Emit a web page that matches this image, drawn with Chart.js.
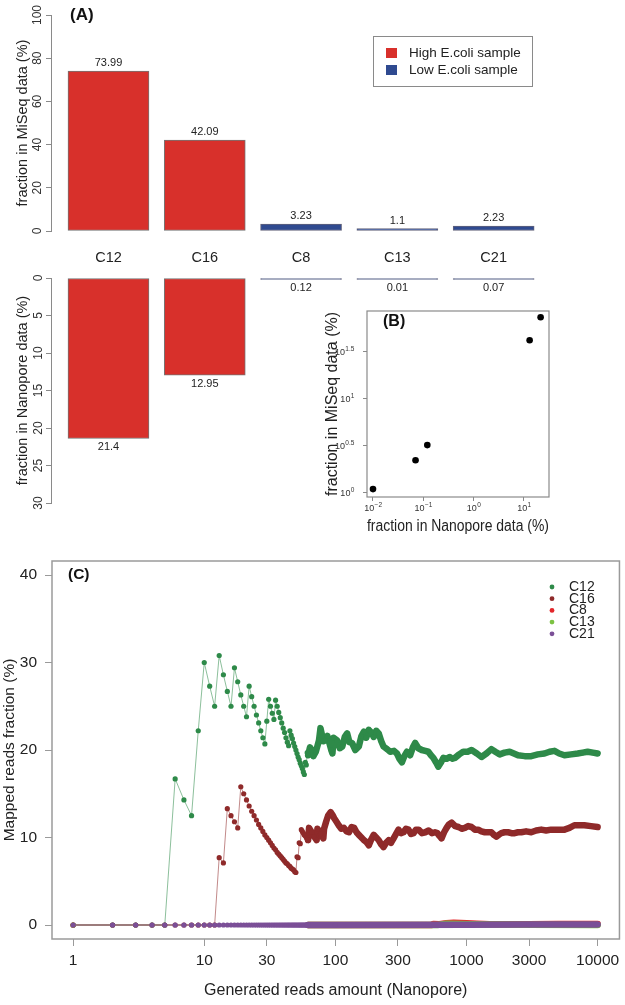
<!DOCTYPE html>
<html><head><meta charset="utf-8">
<script src="https://cdn.jsdelivr.net/npm/chart.js@4.4.1/dist/chart.umd.min.js"></script>
<style>
html,body{margin:0;padding:0;background:#fff;}
#wrap{position:relative;width:625px;height:1005px;overflow:hidden;background:#fff;}
.pane{position:absolute;}
canvas{display:block;}
</style></head><body>
<div id="wrap">
  <div class="pane" style="left:0;top:0;"><canvas id="a1" width="625" height="240"></canvas></div>
  <div class="pane" style="left:0;top:240px;"><canvas id="a2" width="625" height="300"></canvas></div>
  <div class="pane" style="left:300px;top:290px;"><canvas id="b" width="325" height="250"></canvas></div>
  <div class="pane" style="left:0;top:540px;"><canvas id="c" width="625" height="465"></canvas></div>
</div>
<script>
// ---------------- DATA ----------------
const categories = ['C12', 'C16', 'C8', 'C13', 'C21'];
const sampleGroup = ['High', 'High', 'Low', 'Low', 'Low'];
const groupNames = ['High E.coli sample', 'Low E.coli sample'];
const miseqFraction = [73.99, 42.09, 3.23, 1.1, 2.23];
const nanoporeFraction = [21.4, 12.95, 0.12, 0.01, 0.07];

const bXTickValues = [0.01, 0.1, 1, 10];
const bXTickExponents = ['\u22122', '\u22121', '0', '1'];
const bYTickValues = [1, 3.1623, 10, 31.623];
const bYTickExponents = ['0', '0.5', '1', '1.5'];

const cXTicks = [1, 10, 30, 100, 300, 1000, 3000, 10000];
const cYTicks = [0, 10, 20, 30, 40];
const cSeriesNames = ['C12', 'C16', 'C8', 'C13', 'C21'];

const earlyReads = [1,2,3,4,5,6,7,8,9,10,11,12,13,14,15,16,17,18,19,20,21,22,23,24,25,26,27,28,29,30,
  31,32,33,34,35,36,37,38,39,40,41,42,43,44,45,46,47,48,49,50,51,52,53,54,55,56,57,58,59,60,61,62];

const c12Early = [0,0,0,0,0,16.7,14.3,12.5,22.2,30.0,27.3,25.0,30.8,28.6,26.7,25.0,29.4,27.8,26.3,25.0,
  23.8,27.3,26.1,25.0,24.0,23.1,22.2,21.4,20.7,23.3,25.8,25.0,24.2,23.5,25.7,25.0,24.3,23.7,23.1,22.5,
  22.0,21.4,20.9,20.5,22.2,21.7,21.3,20.8,20.4,20.0,19.6,19.2,18.9,18.5,18.2,17.9,17.5,17.2,18.6,18.3,19.7,19.4];
const c12TailReads = [64,66,68,71,75,77,81,84,87,93,95,97,103,108,113,118,123,128,134,142,151,158,165,172,180,188,196,205,214,224,
  233,248,262,280,295,308,322,336,351,372,390,406,430,456,485,512,536,559,585,610,640,666,705,748,780,817,880,944,1020,1093,
  1200,1301,1420,1549,1660,1793,1950,2136,2300,2470,2780,3118,3500,3937,4300,4688,5100,5587,6300,7047,7700,8396,9200,10000];
const c12TailFrac = [20.3,20.0,19.3,19.8,21.1,22.5,21.0,21.1,21.6,20.0,19.6,21.4,21.1,20.2,20.4,21.5,21.9,20.9,20.8,20.0,20.4,21.6,22.1,21.4,22.3,22.0,21.5,22.2,21.9,21.0,
  20.4,20.1,19.8,19.9,19.6,19.0,18.6,19.3,19.8,19.4,20.3,20.8,20.2,20.0,19.9,19.8,19.4,19.1,18.6,18.1,18.6,19.1,19.0,19.2,19.0,19.1,19.5,19.8,19.8,20.0,
  19.6,19.2,19.6,20.1,19.8,19.5,19.7,19.8,19.6,19.4,19.3,19.3,19.5,19.6,19.8,19.9,19.6,19.4,19.5,19.6,19.7,19.8,19.7,19.6];

const c16Early = [0,0,0,0,0,0,0,0,0,0,0,0,7.7,7.1,13.3,12.5,11.8,11.1,15.8,15.0,14.3,13.6,13.0,12.5,12.0,
  11.5,11.1,10.7,10.3,10.0,9.7,9.4,9.1,8.8,8.6,8.3,8.1,7.9,7.7,7.5,7.3,7.1,7.0,6.8,6.7,6.5,6.4,6.3,6.1,6.0,
  7.8,7.7,9.4,9.3,10.9,10.7,10.5,10.3,10.2,10.0,9.8,9.7];
const c16TailReads = [63,66,69,72,73,77,81,82,85,88,92,95,98,102,106,111,116,122,127,133,139,145,151,158,165,172,180,188,196,205,
  214,224,233,244,255,266,278,290,303,317,331,346,361,378,395,412,431,458,485,515,546,575,600,620,645,675,705,735,770,820,
  869,920,972,1030,1093,1160,1227,1300,1380,1460,1549,1620,1690,1760,1842,1950,2076,2200,2332,2470,2620,2850,3118,3400,3716,4050,4420,5000,5587,6100,
  6650,7300,7925,8900,10000];
const c16TailFrac = [11.1,10.6,10.1,9.7,11.0,10.4,9.9,11.0,11.8,12.5,12.9,12.6,12.2,11.8,11.4,11.0,11.1,10.7,10.6,11.2,11.1,10.6,10.3,10.0,9.7,9.5,9.1,9.8,10.3,10.0,
  9.7,9.2,8.9,9.4,9.7,9.4,9.9,10.4,10.9,10.5,10.6,11.0,10.9,10.4,10.5,10.9,10.9,10.5,10.6,10.8,10.5,10.6,10.5,10.2,9.9,10.6,11.1,11.5,11.7,11.3,
  11.2,11.0,11.1,11.3,11.2,10.9,10.9,10.7,10.6,10.6,10.6,10.3,10.1,10.3,10.5,10.6,10.6,10.5,10.5,10.6,10.6,10.7,10.6,10.8,10.9,10.8,10.9,10.9,10.9,11.1,
  11.4,11.4,11.4,11.3,11.2];

const c8Reads = [1,62,540,560,620,700,800,900,1000,1200,1500,2000,3000,5000,10000];
const c8Frac  = [0,0,0,0.12,0.10,0.20,0.26,0.24,0.20,0.15,0.10,0.08,0.10,0.11,0.12];
const c13Reads = [1,62,600,700,900,1100,1400,1800,3000,10000];
const c13Frac  = [0,0,0,0.14,0.11,0.09,0.07,0.06,0.03,0.01];
const c21Early = [0,0,0,0,0,0,0,0,0,0,0,0,0,0,0,0,0,0,0,0,0,0,0,0,0,0,0,0,0,0,
  0,0,0,0,0,0,0,0,0,0,0,0,0,0,0,0,0,0,0,0,0,0,0,0,0,0,0,0,0,0,0,0];
const c21TailReads = [100, 1000, 3000, 10000];
const c21TailFrac  = [0, 0.02, 0.05, 0.07];

// ---------------- STYLE ----------------
const FONT = "'Liberation Sans', Arial, Helvetica, sans-serif";
Chart.defaults.font.family = FONT;
Chart.defaults.color = '#222';
Chart.defaults.animation = false;
Chart.defaults.devicePixelRatio = 1;

const groupColors = { High: '#d8302b', Low: '#2f4a90' };
const axisGray = '#8a8a8a';
const seriesColors = ['#2e8a49', '#8f2a2a', '#e3262a', '#7cc243', '#7b4f97'];
const seriesLight = ['rgba(46,138,73,0.55)', 'rgba(143,42,42,0.55)', 'rgba(227,38,42,0.55)', 'rgba(124,194,67,0.55)', 'rgba(123,79,151,0.7)'];

const idx = categories.map((c, i) => i);
function groupData(values, g) {
  return idx.filter(i => sampleGroup[i] === g).map(i => ({ x: i, y: values[i] }));
}

// ---------------- PLUGINS ----------------
const barValueLabels = {
  id: 'barValueLabels',
  afterDatasetsDraw(chart, args, opts) {
    const ctx = chart.ctx;
    ctx.save();
    ctx.font = '11px ' + FONT;
    ctx.fillStyle = '#222';
    ctx.textAlign = 'center';
    ctx.textBaseline = 'middle';
    chart.data.datasets.forEach((ds, di) => {
      const meta = chart.getDatasetMeta(di);
      meta.data.forEach((el, i) => {
        ctx.fillText(String(ds.data[i].y), el.x, el.y + opts.offset);
      });
    });
    ctx.restore();
  }
};

const panelTag = {
  id: 'panelTag',
  afterDraw(chart, args, opts) {
    const ctx = chart.ctx, ca = chart.chartArea;
    ctx.save();
    ctx.font = 'bold ' + opts.size + 'px ' + FONT;
    ctx.fillStyle = '#111';
    ctx.textAlign = 'left';
    ctx.textBaseline = 'middle';
    ctx.fillText(opts.text, ca.left + opts.dx, ca.top + opts.dy);
    ctx.restore();
  }
};

const frameBox = {
  id: 'frameBox',
  beforeDatasetsDraw(chart, args, opts) {
    const ctx = chart.ctx, ca = chart.chartArea;
    ctx.save();
    ctx.strokeStyle = opts.color;
    ctx.lineWidth = opts.width;
    ctx.strokeRect(ca.left, ca.top, ca.right - ca.left, ca.bottom - ca.top);
    ctx.restore();
  }
};

// power-of-ten tick labels with raised exponents (panel B)
const powerTicks = {
  id: 'powerTicks',
  afterDraw(chart) {
    const ctx = chart.ctx;
    const xs = chart.scales.x, ys = chart.scales.y;
    ctx.save();
    ctx.fillStyle = '#333';
    ctx.textBaseline = 'alphabetic';
    const draw = (px, py, exp, align) => {
      ctx.font = '9px ' + FONT;
      const wb = ctx.measureText('10').width;
      ctx.font = '6.5px ' + FONT;
      const we = ctx.measureText(exp).width;
      const total = wb + we;
      let x0 = align === 'center' ? px - total / 2 : px - total;
      ctx.font = '9px ' + FONT;
      ctx.textAlign = 'left';
      ctx.fillText('10', x0, py);
      ctx.font = '6.5px ' + FONT;
      ctx.fillText(exp, x0 + wb + 0.3, py - 4);
    };
    bXTickValues.forEach((v, i) => draw(xs.getPixelForValue(v), xs.top + 14, bXTickExponents[i], 'center'));
    bYTickValues.forEach((v, i) => draw(ys.right - 13, ys.getPixelForValue(v) + 3.5, bYTickExponents[i], 'right'));
    ctx.restore();
  }
};

const boxLegendA = {
  id: 'boxLegendA',
  afterDraw(chart) {
    const ctx = chart.ctx, ca = chart.chartArea;
    const x0 = ca.left + 322, y0 = ca.top + 21, w = 159, h = 50;
    ctx.save();
    ctx.fillStyle = '#fff';
    ctx.fillRect(x0, y0, w, h);
    ctx.strokeStyle = '#8a8a8a';
    ctx.lineWidth = 1;
    ctx.strokeRect(x0 + 0.5, y0 + 0.5, w, h);
    ctx.font = '13.5px ' + FONT;
    ctx.textBaseline = 'middle';
    ctx.textAlign = 'left';
    chart.data.datasets.forEach((ds, i) => {
      const yy = y0 + 17 + i * 17;
      ctx.fillStyle = ds.backgroundColor;
      ctx.fillRect(x0 + 13, yy - 5, 11, 10);
      ctx.fillStyle = '#222';
      ctx.fillText(ds.label, x0 + 36, yy);
    });
    ctx.restore();
  }
};

const dotLegendC = {
  id: 'dotLegendC',
  afterDraw(chart) {
    const ctx = chart.ctx, ca = chart.chartArea;
    ctx.save();
    ctx.font = '14px ' + FONT;
    ctx.textBaseline = 'middle';
    ctx.textAlign = 'left';
    chart.data.datasets.forEach((ds, i) => {
      const yy = ca.top + 26 + i * 11.7;
      ctx.fillStyle = ds.pointBackgroundColor;
      ctx.beginPath();
      ctx.arc(552, yy, 2.4, 0, Math.PI * 2);
      ctx.fill();
      ctx.fillStyle = '#222';
      ctx.fillText(ds.label, 569, yy);
    });
    ctx.restore();
  }
};

function fixWidth(w) { return s => { s.width = w; }; }
function fixHeight(h) { return s => { s.height = h; }; }

// ---------------- PANEL A (top) ----------------
const xMinA = -0.597, xMaxA = 4.689;
function barDatasets(values, minLen) {
  return groupNames.map((name, gi) => {
    const g = gi === 0 ? 'High' : 'Low';
    return {
      label: name,
      data: groupData(values, g),
      backgroundColor: groupColors[g],
      borderColor: g === 'High' ? 'rgba(70,70,70,0.75)' : 'rgba(60,60,90,0.8)',
      borderWidth: 1,
      borderSkipped: false,
      barThickness: 81,
      grouped: false,
      minBarLength: minLen
    };
  });
}

new Chart(document.getElementById('a1'), {
  type: 'bar',
  data: { datasets: barDatasets(miseqFraction, 0) },
  options: {
    responsive: false,
    layout: { padding: { top: 15, right: 65, bottom: 9, left: 0 } },
    plugins: {
      legend: { display: false }, tooltip: { enabled: false },
      barValueLabels: { offset: -8 },
      panelTag: { text: '(A)', size: 17, dx: 19, dy: 0 }
    },
    scales: {
      x: { type: 'linear', display: false, offset: false, min: xMinA, max: xMaxA },
      y: {
        min: 0, max: 100,
        afterFit: fixWidth(51),
        ticks: { stepSize: 20, minRotation: 90, maxRotation: 90, crossAlign: 'center', padding: -2, font: { size: 12 }, color: '#333' },
        grid: { drawOnChartArea: false, tickLength: 5, color: axisGray },
        border: { display: true, color: axisGray },
        title: { display: true, text: 'fraction in MiSeq data (%)', font: { size: 14.5 }, padding: { top: 14.3, bottom: 0 }, color: '#222' }
      }
    }
  },
  plugins: [barValueLabels, panelTag, boxLegendA]
});

// ---------------- PANEL A (bottom) ----------------
new Chart(document.getElementById('a2'), {
  type: 'bar',
  data: { datasets: barDatasets(nanoporeFraction, 1.5) },
  options: {
    responsive: false,
    layout: { padding: { top: 0, right: 65, bottom: 37, left: 0 } },
    plugins: {
      legend: { display: false }, tooltip: { enabled: false },
      barValueLabels: { offset: 8.5 }
    },
    scales: {
      x: {
        type: 'linear', position: 'top', offset: false, min: xMinA, max: xMaxA,
        afterFit: fixHeight(38),
        afterBuildTicks: s => { s.ticks = idx.map(v => ({ value: v })); },
        ticks: { autoSkip: false, maxRotation: 0, padding: 11, font: { size: 14.5 }, color: '#222',
          callback: (v) => categories[v] },
        grid: { display: false, drawTicks: false },
        border: { display: false }
      },
      y: {
        min: 0, max: 30, reverse: true,
        afterFit: fixWidth(51),
        ticks: { stepSize: 5, minRotation: 90, maxRotation: 90, crossAlign: 'center', padding: 1, font: { size: 12 }, color: '#333' },
        grid: { drawOnChartArea: false, tickLength: 5, color: axisGray },
        border: { display: true, color: axisGray },
        title: { display: true, text: 'fraction in Nanopore data (%)', font: { size: 14.5 }, padding: { top: 14.3, bottom: 0 }, color: '#222' }
      }
    }
  },
  plugins: [barValueLabels]
});

// ---------------- PANEL B ----------------
new Chart(document.getElementById('b'), {
  type: 'scatter',
  data: {
    datasets: [{
      label: 'contigs',
      data: idx.map(i => ({ x: nanoporeFraction[i], y: miseqFraction[i] })),
      pointRadius: 3.3, pointBackgroundColor: '#000', pointBorderWidth: 0
    }]
  },
  options: {
    responsive: false,
    layout: { padding: { top: 21, right: 76, bottom: 0, left: 0 } },
    plugins: {
      legend: { display: false }, tooltip: { enabled: false },
      frameBox: { color: '#8a8a8a', width: 1.2 },
      panelTag: { text: '(B)', size: 16, dx: 16, dy: 11 }
    },
    scales: {
      x: {
        type: 'logarithmic', min: 0.0076, max: 31.4,
        afterFit: fixHeight(43),
        afterBuildTicks: s => { s.ticks = bXTickValues.map(v => ({ value: v })); },
        ticks: { display: false },
        grid: { drawOnChartArea: false, tickLength: 4, color: axisGray },
        border: { display: false },
        title: { display: true, text: 'fraction in Nanopore data (%)', font: { size: 16 }, padding: { top: 0, bottom: 3.4 }, color: '#222' }
      },
      y: {
        type: 'logarithmic', min: 0.906, max: 86.3,
        afterFit: fixWidth(67),
        afterBuildTicks: s => { s.ticks = bYTickValues.map(v => ({ value: v })); },
        ticks: { display: false },
        grid: { drawOnChartArea: false, tickLength: 4, color: axisGray },
        border: { display: false },
        title: { display: true, text: 'fraction in MiSeq data (%)', font: { size: 16 }, padding: { top: 23.4, bottom: 0 }, color: '#222' }
      }
    }
  },
  plugins: [frameBox, panelTag, powerTicks]
});

// ---------------- PANEL C ----------------
const denseFrom = 62;
function pts(reads, vals) { return reads.map((r, i) => ({ x: r, y: vals[i] })); }
const cData = [
  pts(earlyReads, c12Early).concat(pts(c12TailReads, c12TailFrac)),
  pts(earlyReads, c16Early).concat(pts(c16TailReads, c16TailFrac)),
  pts(c8Reads, c8Frac),
  pts(c13Reads, c13Frac),
  pts(earlyReads, c21Early).concat(pts(c21TailReads, c21TailFrac))
];
const cDatasets = cSeriesNames.map((name, i) => ({
  label: name,
  data: cData[i],
  order: cSeriesNames.length - i,
  borderColor: seriesColors[i],
  borderWidth: 1,
  borderJoinStyle: 'round',
  borderCapStyle: 'round',
  pointRadius: 2.6,
  pointBorderWidth: 0,
  pointBackgroundColor: seriesColors[i],
  showLine: true,
  segment: {
    borderWidth: ctx => ctx.p1.parsed.x > denseFrom ? 6.5 : 1,
    borderColor: ctx => ctx.p1.parsed.x > denseFrom ? seriesColors[i] : seriesLight[i]
  }
}));

new Chart(document.getElementById('c'), {
  type: 'scatter',
  data: { datasets: cDatasets },
  options: {
    responsive: false,
    layout: { padding: { top: 21, right: 3, bottom: 0, left: 0 } },
    plugins: {
      legend: { display: false }, tooltip: { enabled: false },
      frameBox: { color: '#9a9a9a', width: 1.5 },
      panelTag: { text: '(C)', size: 15.5, dx: 16, dy: 14 }
    },
    scales: {
      x: {
        type: 'logarithmic', min: 0.69, max: 14680,
        afterFit: fixHeight(66),
        afterBuildTicks: s => { s.ticks = cXTicks.map(v => ({ value: v })); },
        ticks: { autoSkip: false, maxRotation: 0, padding: 5.7, font: { size: 15.5 }, color: '#222',
          callback: (v) => String(v) },
        grid: { drawOnChartArea: false, tickLength: 7, color: '#9a9a9a' },
        border: { display: false },
        title: { display: true, text: 'Generated reads amount (Nanopore)', font: { size: 16 }, padding: { top: 0, bottom: 4.4 }, color: '#222' }
      },
      y: {
        min: -1.6, max: 41.6,
        afterFit: fixWidth(52),
        afterBuildTicks: s => { s.ticks = cYTicks.map(v => ({ value: v })); },
        ticks: { autoSkip: false, padding: 8, font: { size: 15.5 }, color: '#222' },
        grid: { drawOnChartArea: false, tickLength: 7, color: '#9a9a9a' },
        border: { display: false },
        title: { display: true, text: 'Mapped reads fraction (%)', font: { size: 15.5 }, padding: { top: 0.7, bottom: 0 }, color: '#222' }
      }
    }
  },
  plugins: [frameBox, panelTag, dotLegendC]
});
</script>
</body></html>
